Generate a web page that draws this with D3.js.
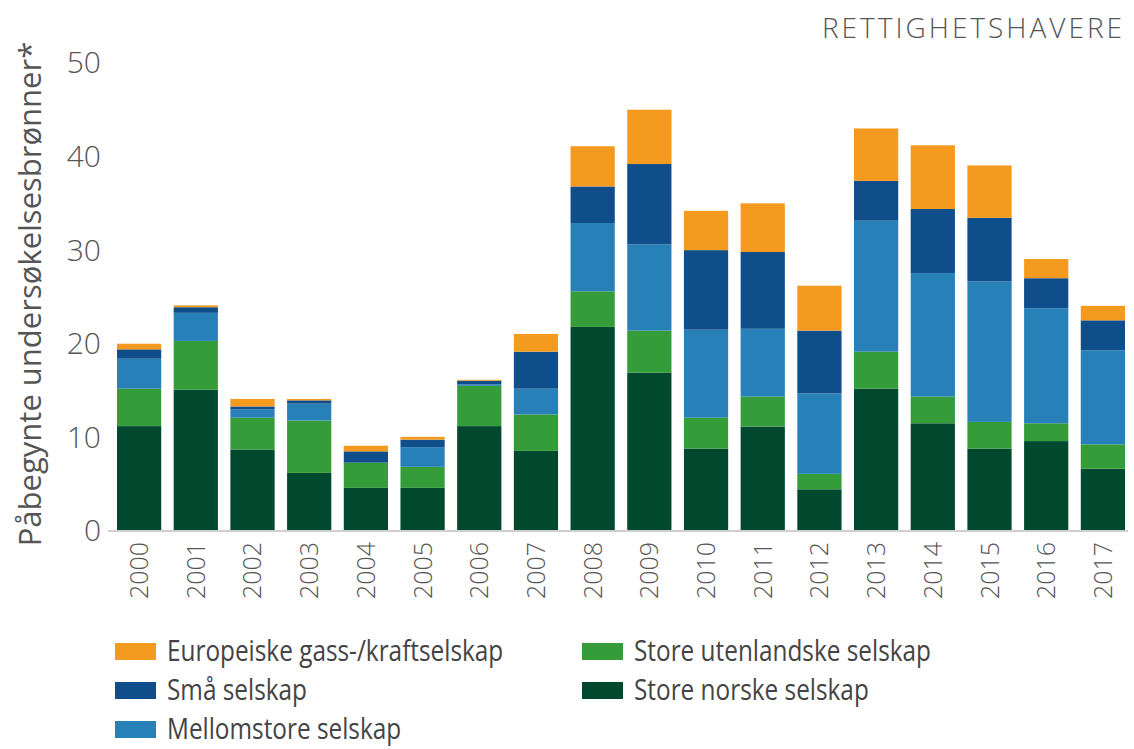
<!DOCTYPE html>
<meta charset="utf-8">
<script src="https://cdn.jsdelivr.net/npm/d3@7"></script>
<style>
body { margin: 0; background: #fff; }
text { font-family: "Open Sans", sans-serif; fill: #555; }
.axis path, .axis line { stroke: none; }
.legend text { font-family: "Open Sans", sans-serif; fill: #444; }
</style>
<body>
<div id="chart"></div>
<script>
// data
var years = ["2000","2001","2002","2003","2004","2005","2006","2007","2008",
             "2009","2010","2011","2012","2013","2014","2015","2016","2017"];
var storeNorske      = [11.1, 15.0, 8.6, 6.1, 4.5, 4.5, 11.1, 8.45, 21.7, 16.8, 8.7, 11.05, 4.35, 15.1, 11.4, 8.7, 9.5, 6.55];
var storeUtenlandske = [4.0, 5.2, 3.4, 5.6, 2.7, 2.25, 4.3, 3.9, 3.8, 4.5, 3.3, 3.2, 1.65, 3.95, 2.85, 2.85, 1.9, 2.6];
var mellomstore      = [3.2, 3.0, 0.9, 1.8, 0, 2.1, 0.15, 2.75, 7.3, 9.2, 9.4, 7.25, 8.6, 14.0, 13.2, 15.0, 12.3, 10.05];
var smaa             = [1.0, 0.6, 0.3, 0.35, 1.2, 0.8, 0.4, 3.95, 3.9, 8.6, 8.5, 8.2, 6.7, 4.25, 6.85, 6.8, 3.2, 3.2];
var europeiske       = [0.6, 0.2, 0.8, 0.15, 0.6, 0.3, 0.1, 1.9, 4.3, 5.8, 4.2, 5.2, 4.8, 5.6, 6.8, 5.6, 2.05, 1.55];
var yTicks = [0, 10, 20, 30, 40, 50];

var series = [
  {key: "norske", name: "Store norske selskap", values: storeNorske, color: "#00482e"},
  {key: "utenl", name: "Store utenlandske selskap", values: storeUtenlandske, color: "#349d3a"},
  {key: "mellom", name: "Mellomstore selskap", values: mellomstore, color: "#2880b8"},
  {key: "smaa", name: "Små selskap", values: smaa, color: "#0f4d8b"},
  {key: "europ", name: "Europeiske gass-/kraftselskap", values: europeiske, color: "#f39a1f"}
];

var rows = years.map(function(y, i){
  var r = {year: y};
  series.forEach(function(s){ r[s.key] = s.values[i]; });
  return r;
});

var W = 1134, H = 749;
var svg = d3.select("#chart").append("svg").attr("width", W).attr("height", H);

var x = d3.scaleBand().domain(years).range([117, 1125]).paddingInner(0.22).paddingOuter(0);
var y = d3.scaleLinear().domain([0, 50]).range([530, 62]);

var stack = d3.stack().keys(series.map(function(s){ return s.key; }));
var layers = stack(rows);

svg.append("g").selectAll("g")
  .data(layers).enter().append("g")
    .attr("fill", function(d, i){ return series[i].color; })
  .selectAll("rect")
  .data(function(d){ return d; }).enter().append("rect")
    .attr("x", function(d){ return x(d.data.year); })
    .attr("width", x.bandwidth())
    .attr("y", function(d){ return y(d[1]); })
    .attr("height", function(d){ return y(d[0]) - y(d[1]); });

// baseline
svg.append("line")
  .attr("x1", 108).attr("x2", 1128)
  .attr("y1", y(0) + 1).attr("y2", y(0) + 1)
  .attr("stroke", "#cfcfcf").attr("stroke-width", 2);

// y axis
var yAxis = svg.append("g").attr("class", "axis")
  .attr("transform", "translate(101,0)")
  .call(d3.axisLeft(y).tickValues(yTicks).tickSize(0).tickPadding(0));
yAxis.selectAll("text").style("font-size", "30px").style("font-weight", 300)
  .attr("fill", "#555").attr("dy", "0.36em");

// x axis
var xAxis = svg.append("g").attr("class", "axis")
  .attr("transform", "translate(0," + 542 + ")")
  .call(d3.axisBottom(x).tickSize(0).tickPadding(0));
xAxis.selectAll("text")
  .style("font-size", "25px").style("font-weight", 300).attr("fill", "#555")
  .attr("y", 0).attr("x", 0).attr("dy", "0.36em")
  .attr("transform", "rotate(-90)")
  .style("text-anchor", "end");

// y title
svg.append("text")
  .attr("transform", "translate(41,294) rotate(-90)")
  .attr("text-anchor", "middle")
  .style("font-size", "31px").attr("fill", "#444")
  .text("Påbegynte undersøkelsesbrønner*");

// top right title
svg.append("text")
  .attr("x", 1125).attr("y", 38)
  .attr("text-anchor", "end")
  .style("font-size", "28px").style("font-weight", 300)
  .style("letter-spacing", "3px").attr("fill", "#555")
  .text("RETTIGHETSHAVERE");

// legend
var legendItems = [
  {s: series[4], col: 0, row: 0},
  {s: series[1], col: 1, row: 0},
  {s: series[3], col: 0, row: 1},
  {s: series[0], col: 1, row: 1},
  {s: series[2], col: 0, row: 2}
];
var lg = svg.append("g").attr("class", "legend");
var li = lg.selectAll("g").data(legendItems).enter().append("g")
  .attr("transform", function(d){ return "translate(" + (d.col ? 582 : 115) + "," + (643 + d.row * 39) + ")"; });
li.append("rect").attr("width", 41).attr("height", 17)
  .attr("fill", function(d){ return d.s.color; });
li.append("text")
  .attr("transform", "translate(52,18) scale(0.84,1)")
  .style("font-size", "29px")
  .text(function(d){ return d.s.name; });
</script>
</body>
